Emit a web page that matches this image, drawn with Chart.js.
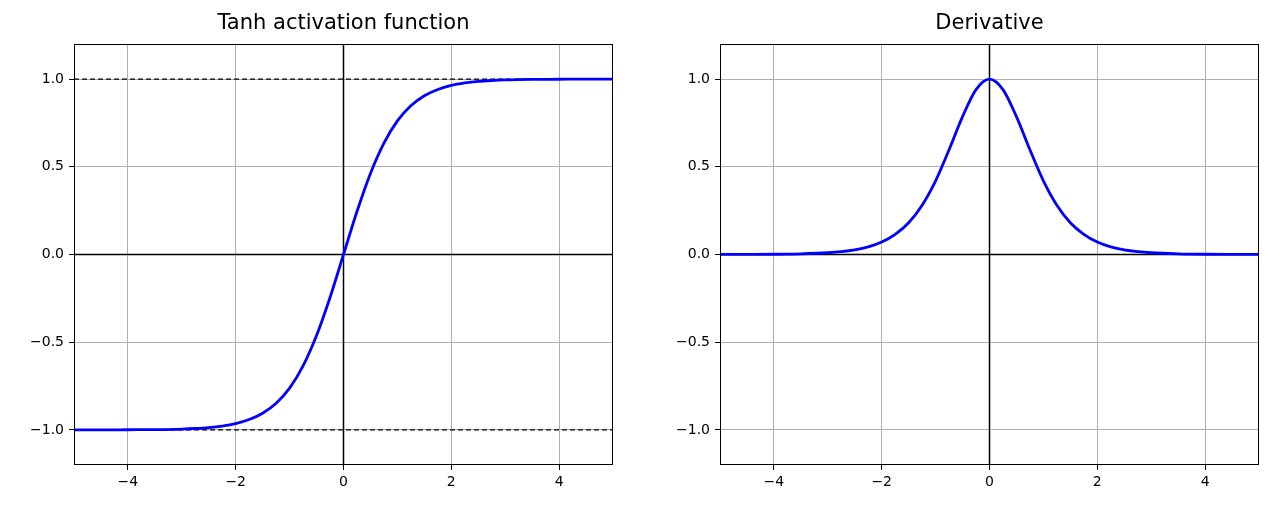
<!DOCTYPE html>
<html>
<head>
<meta charset="utf-8">
<script src="https://cdn.jsdelivr.net/npm/chart.js@4"></script>
<style>
  body { margin: 0; background: #fff; width: 1280px; height: 515px; position: relative; overflow: hidden; }
  .box { position: absolute; top: 0; height: 515px; }
  .ttl { position: absolute; top: 10px; font: 21px "DejaVu Sans", sans-serif; color: #000; text-align: center; }
</style>
</head>
<body>
<div class="box" style="left:0;width:640px"><canvas id="tanhChart"></canvas></div>
<div class="box" style="left:646px;width:634px"><canvas id="derivChart"></canvas></div>
<div class="ttl" style="left:74px;width:539px">Tanh activation function</div>
<div class="ttl" style="left:720px;width:539px">Derivative</div>
<script>
// x positions
const xs = [-5, -4.5, -4, -3.5, -3, -2.75, -2.5, -2.25, -2, -1.75, -1.5, -1.25, -1, -0.75, -0.5, -0.25,
  0, 0.25, 0.5, 0.75, 1, 1.25, 1.5, 1.75, 2, 2.25, 2.5, 2.75, 3, 3.5, 4, 4.5, 5];
const tanhVals = [-1.0, -1.0, -0.999, -0.998, -0.995, -0.992, -0.987, -0.978, -0.964, -0.941, -0.905, -0.848, -0.762, -0.635, -0.462, -0.245,
  0, 0.245, 0.462, 0.635, 0.762, 0.848, 0.905, 0.941, 0.964, 0.978, 0.987, 0.992, 0.995, 0.998, 0.999, 1.0, 1.0];
const derivVals = [0.0002, 0.0005, 0.0013, 0.004, 0.01, 0.016, 0.026, 0.043, 0.071, 0.115, 0.181, 0.281, 0.42, 0.597, 0.786, 0.94,
  1.0, 0.94, 0.786, 0.597, 0.42, 0.281, 0.181, 0.115, 0.071, 0.043, 0.026, 0.016, 0.01, 0.004, 0.0013, 0.0005, 0.0002];
const xTicks = [-4, -2, 0, 2, 4];
const yTicks = [-1, -0.5, 0, 0.5, 1];
const saturation = [-1, 1];

const font = { family: "DejaVu Sans", size: 14 };
const minus = (v) => String(v).replace("-", "\u2212");

const framePlugin = {
  id: "frame",
  afterDraw(chart) {
    const a = chart.chartArea, c = chart.ctx;
    c.save();
    c.strokeStyle = "#000";
    c.lineWidth = 1;
    c.strokeRect(a.left + 0.5, a.top + 0.5, a.right - a.left - 1, a.bottom - a.top - 1);
    c.restore();
  },
};

function line(points, color, width, dash) {
  return { data: points, borderColor: color, borderWidth: width, borderDash: dash || [],
    pointRadius: 0, fill: false, tension: 0, order: 2 };
}

function makeChart(id, vals, dashed, rightPad) {
  const datasets = [];
  if (dashed) {
    saturation.forEach((v) => datasets.push(line([{ x: -5, y: v }, { x: 5, y: v }], "#000", 1.2, [5, 3])));
  }
  datasets.push(line([{ x: -5, y: 0 }, { x: 5, y: 0 }], "#000", 1.5));
  datasets.push(line([{ x: 0, y: -1.2 }, { x: 0, y: 1.2 }], "#000", 1.5));
  datasets.push({
    data: xs.map((x, i) => ({ x, y: vals[i] })),
    borderColor: "#0000ff", borderWidth: 2.8, pointRadius: 0, fill: false,
    cubicInterpolationMode: "monotone", order: 1,
  });
  new Chart(document.getElementById(id), {
    type: "line",
    data: { datasets },
    options: {
      responsive: false, animation: false,
      layout: { padding: { top: 44, right: rightPad, left: 0, bottom: 0 } },
      plugins: { legend: { display: false }, tooltip: { enabled: false } },
      scales: {
        x: {
          type: "linear", min: -5, max: 5,
          afterBuildTicks: (s) => { s.ticks = xTicks.map((v) => ({ value: v })); },
          afterFit: (s) => { s.height = 50; },
          grid: { color: "#b0b0b0", tickColor: "#000", tickLength: 5 },
          border: { display: false },
          ticks: { color: "#000", font, padding: 4, maxRotation: 0, callback: (v) => minus(v) },
        },
        y: {
          type: "linear", min: -1.2, max: 1.2,
          afterBuildTicks: (s) => { s.ticks = yTicks.map((v) => ({ value: v })); },
          afterFit: (s) => { s.width = 74; },
          grid: { color: "#b0b0b0", tickColor: "#000", tickLength: 5 },
          border: { display: false },
          ticks: { color: "#000", font, padding: 5, callback: (v) => minus(v.toFixed(1)) },
        },
      },
    },
    plugins: [framePlugin],
  });
}

const c1 = document.getElementById("tanhChart");
c1.width = 640; c1.height = 515;
const c2 = document.getElementById("derivChart");
c2.width = 634; c2.height = 515;
makeChart("tanhChart", tanhVals, true, 27);
makeChart("derivChart", derivVals, false, 21);
</script>
</body>
</html>
